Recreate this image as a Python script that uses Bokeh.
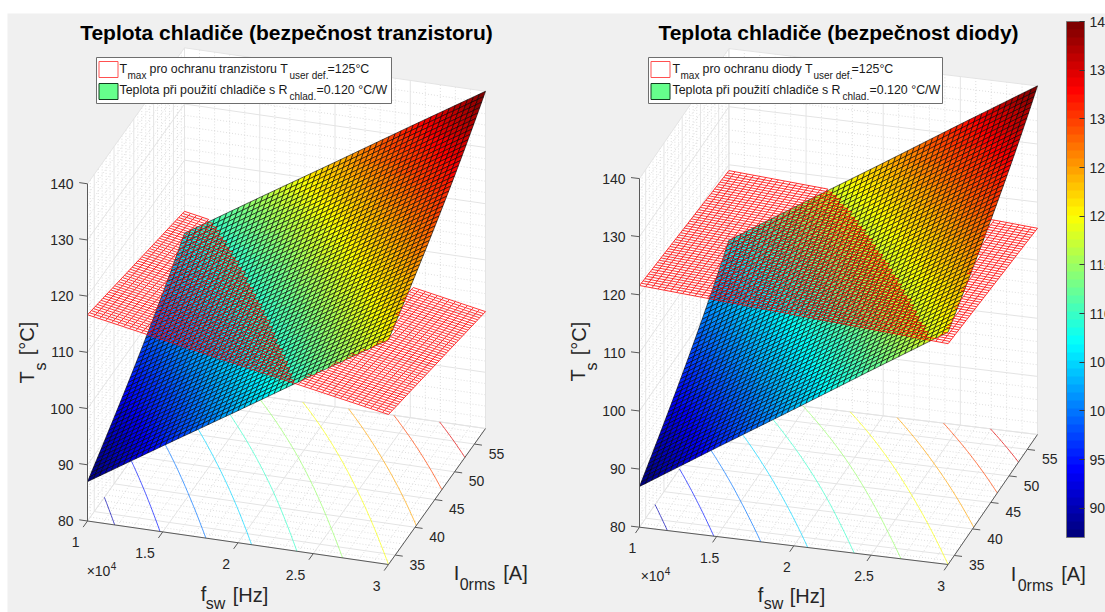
import numpy as np
import contourpy
from bokeh.plotting import figure
from bokeh.embed import file_html
from bokeh.resources import INLINE
from bokeh.models import Range1d, ColorBar, LinearColorMapper, FixedTicker
from bokeh.core.properties import value

# ---- values ----
f_table = [1.0, 1.5, 2.0, 2.5, 3.0]            # x 1e4 Hz
i_table = [33.3, 37.0, 41.0, 45.0, 49.0, 53.0, 57.8]   # A
T_f1  = [87.0, 89.6, 92.5, 95.6, 98.8, 102.4, 107.0]
T_f15 = [95.3, 97.9, 100.8, 103.9, 107.1, 110.7, 115.3]
T_f2  = [103.5, 106.1, 109.0, 112.1, 115.3, 118.9, 123.5]
T_f25 = [111.8, 114.4, 117.3, 120.4, 123.6, 127.2, 131.8]
T_f3  = [120.0, 122.6, 125.5, 128.6, 131.8, 135.4, 140.0]
# limit planes at corners (f=1,Imin),(f=3,Imin),(f=1,Imax),(f=3,Imax)
plane_tranzistor = [116.7, 106.7, 110.9, 100.8]
plane_dioda = [121.6, 118.0, 119.0, 115.5]
contour_levels = [90, 95, 100, 105, 110, 115, 120, 125, 130, 135]
f_ticks = [1, 1.5, 2, 2.5, 3]
f_labels = ["1", "1.5", "2", "2.5", "3"]
i_ticks = [35, 40, 45, 50, 55]
z_ticks = [80, 90, 100, 110, 120, 130, 140]
cbar_ticks = [90, 95, 100, 105, 110, 115, 120, 125, 130, 135, 140]
T_LOW, T_HIGH = 87.0, 140.0
F_MIN, F_MAX, I_MIN, I_MAX, Z_MIN, Z_MAX = 1.0, 3.0, 33.3, 57.8, 80.0, 140.0
MESH = 50

FONT = value("Liberation Sans")
INK = "#262626"


def jet(t):
    t = np.clip(t, 0, 1)
    r = np.clip(1.5 - abs(4 * t - 3), 0, 1)
    g = np.clip(1.5 - abs(4 * t - 2), 0, 1)
    b = np.clip(1.5 - abs(4 * t - 1), 0, 1)
    return "#%02x%02x%02x" % (int(r * 255), int(g * 255), int(b * 255))


palette = [jet(i / 63) for i in range(64)]


def color_of(T):
    k = int((T - T_LOW) / (T_HIGH - T_LOW) * 64)
    return palette[min(max(k, 0), 63)]


table = np.array([T_f1, T_f15, T_f2, T_f25, T_f3])


def surface_on(fs, Is):
    # smooth curve through the values read for each frequency
    by_i = np.array([np.polyval(np.polyfit(i_table, row, 3), Is) for row in table])
    return np.array([np.interp(fs, f_table, by_i[:, j]) for j in range(len(Is))])  # [I, f]


def plane_on(c, fs, Is):
    u = (fs - F_MIN) / (F_MAX - F_MIN)
    v = (Is - I_MIN) / (I_MAX - I_MIN)
    return c[0] * (1 - u) * (1 - v) + c[1] * u * (1 - v) + c[2] * (1 - u) * v + c[3] * u * v


p = figure(width=1105, height=612, output_backend="svg", toolbar_location=None,
           x_range=Range1d(0, 1105), y_range=Range1d(612, 0), min_border=0,
           background_fill_color="white", border_fill_color="white")
p.axis.visible = False
p.grid.visible = False
p.outline_line_color = None

p.quad(left=[7], right=[1105], top=[13], bottom=[612], fill_color="#f0f0f0", line_color=None)


def text(x, y, s, size=14, color=INK, align="left", base="middle", style="normal", angle=0):
    p.text(x=[x], y=[y], text=[s], text_font=FONT, text_font_size=f"{size}px", text_color=color,
           text_align=align, text_baseline=base, text_font_style=style, angle=angle)


def panel(cfg):
    Lx, Ly = cfg["L"]; Fx, Fy = cfg["F"]; Rx, Ry = cfg["R"]; zs = cfg["zs"]

    def proj(f, I, z):
        f = np.asarray(f, float); I = np.asarray(I, float); z = np.asarray(z, float)
        u = (f - F_MIN) / (F_MAX - F_MIN)
        v = (I - I_MIN) / (I_MAX - I_MIN)
        return Lx + u * (Fx - Lx) + v * (Rx - Fx), Ly + u * (Fy - Ly) + v * (Ry - Fy) - zs * (z - Z_MIN)

    # walls
    wf = [F_MIN, F_MIN, F_MIN, F_MAX, F_MAX, F_MAX]
    wi = [I_MIN, I_MIN, I_MAX, I_MAX, I_MAX, I_MIN]
    wz = [Z_MIN, Z_MAX, Z_MAX, Z_MAX, Z_MIN, Z_MIN]
    wx, wy = proj(wf, wi, wz)
    p.patch(wx, wy, fill_color="white", line_color=None)

    def grid_lines(fv, iv, zv, color, dash, width):
        xs, ys = [], []
        def add(a, b):
            x, y = proj([a[0], b[0]], [a[1], b[1]], [a[2], b[2]])
            xs.append(list(x)); ys.append(list(y))
        for f in fv:
            add((f, I_MIN, Z_MIN), (f, I_MAX, Z_MIN))
            add((f, I_MAX, Z_MIN), (f, I_MAX, Z_MAX))
        for i in iv:
            add((F_MIN, i, Z_MIN), (F_MAX, i, Z_MIN))
            add((F_MIN, i, Z_MIN), (F_MIN, i, Z_MAX))
        for z in zv:
            add((F_MIN, I_MIN, z), (F_MIN, I_MAX, z))
            add((F_MIN, I_MAX, z), (F_MAX, I_MAX, z))
        p.multi_line(xs, ys, line_color=color, line_width=width, line_dash=dash)

    minor_f = [1 + 0.1 * k for k in range(21) if k % 5]
    minor_i = [k for k in range(34, 58) if k % 5]
    minor_z = [k for k in range(80, 141, 2) if k % 10]
    grid_lines(minor_f, minor_i, minor_z, "#c8c8c8", "1 2", 0.6)
    grid_lines(f_ticks, i_ticks + [I_MIN, I_MAX], z_ticks, "#e4e4e4", "solid", 1)

    # mesh
    fm = np.linspace(F_MIN, F_MAX, MESH + 1)
    im = np.linspace(I_MIN, I_MAX, MESH + 1)
    Tm = surface_on(fm, im)

    # floor contours
    gen = contourpy.contour_generator(x=fm, y=im, z=Tm)
    for lev in contour_levels:
        for seg in gen.lines(lev):
            x, y = proj(seg[:, 0], seg[:, 1], np.full(len(seg), Z_MIN))
            p.line(x, y, line_color=color_of(lev), line_width=0.7)

    # surface, painted back to front
    xs, ys, cols = [], [], []
    for j in range(MESH - 1, -1, -1):
        for k in range(MESH):
            cf = [fm[k], fm[k + 1], fm[k + 1], fm[k]]
            ci = [im[j], im[j], im[j + 1], im[j + 1]]
            cz = [Tm[j, k], Tm[j, k + 1], Tm[j + 1, k + 1], Tm[j + 1, k]]
            x, y = proj(cf, ci, cz)
            xs.append(x.tolist()); ys.append(y.tolist())
            cols.append(color_of(sum(cz) / 4))
    p.patches(xs, ys, fill_color=cols, line_color="#000000", line_width=0.6)

    # limit plane: keep only what the surface does not hide
    c = cfg["plane"]
    fine_f = np.linspace(F_MIN, F_MAX, 201)
    fine_i = np.linspace(I_MIN, I_MAX, 201)
    T_fine = surface_on(fine_f, fine_i)
    du = (Rx - Fx) / (Fx - Lx)
    dz = (du * (Fy - Ly) - (Ry - Fy)) / zs
    lam = np.linspace(0, 1, 120)

    def hidden(f, I):
        u = (f - F_MIN) / 2.0
        v = (I - I_MIN) / (I_MAX - I_MIN)
        z = plane_on(c, f, I)
        uu = u + lam * du
        vv = v - lam
        ok = (uu <= 1) & (vv >= 0)
        uu, vv, ll = uu[ok], vv[ok], lam[ok]
        Ts = T_fine[np.rint(vv * 200).astype(int), np.rint(uu * 200).astype(int)]
        if z >= Ts[0]:
            return False
        return bool(np.any(z + ll * dz >= Ts))

    px, py = [], []
    def seg(f0, i0, f1, i1):
        if hidden((f0 + f1) / 2, (i0 + i1) / 2):
            return
        x, y = proj([f0, f1], [i0, i1], [plane_on(c, f0, i0), plane_on(c, f1, i1)])
        px.extend([x[0], x[1], np.nan]); py.extend([y[0], y[1], np.nan])
    for j in range(MESH + 1):
        for k in range(MESH):
            seg(fm[k], im[j], fm[k + 1], im[j])
            seg(fm[j], im[k], fm[j], im[k + 1])
    p.line(px, py, line_color="#ff0000", line_width=0.8)

    # axes
    axis_color = "#5a5a5a"
    ax = [proj([F_MIN, F_MAX], [I_MIN, I_MIN], [80, 80]),
          proj([F_MAX, F_MAX], [I_MIN, I_MAX], [80, 80]),
          proj([F_MIN, F_MIN], [I_MIN, I_MIN], [80, 140])]
    p.multi_line([list(a[0]) for a in ax], [list(a[1]) for a in ax], line_color=axis_color, line_width=1)
    for f, lab in zip(f_ticks, f_labels):
        x, y = proj([f, f], [I_MIN, I_MIN - 0.045 * (I_MAX - I_MIN)], [80, 80])
        p.line(x, y, line_color=axis_color, line_width=1)
        x0, y0 = proj(f, I_MIN, 80)
        text(float(x0) + cfg["f_off"][0], float(y0) + cfg["f_off"][1], lab, align=cfg["f_align"])
    for i in i_ticks:
        x, y = proj([F_MAX, F_MAX + 0.05], [i, i], [80, 80])
        p.line(x, y, line_color=axis_color, line_width=1)
        x0, y0 = proj(F_MAX, i, 80)
        text(float(x0) + cfg["i_off"][0], float(y0) + cfg["i_off"][1], str(i), align="center")
    for z in z_ticks:
        x, y = proj([F_MIN, F_MIN - 0.055], [I_MIN, I_MIN], [z, z])
        p.line(x, y, line_color=axis_color, line_width=1)
        x0, y0 = proj(F_MIN, I_MIN, z)
        text(float(x0) + cfg["z_off"], float(y0), str(z), align="right")

    # titles and axis labels
    text(cfg["title_x"], 32, cfg["title"], size=21, color="#000000", align="center", style="bold")
    for (x, y, s, size, ang) in cfg["labels"]:
        text(x, y, s, size=size, angle=ang, align="center")

    # legend
    (x0, x1) = cfg["legend_x"]
    p.quad(left=[x0], right=[x1], top=[57], bottom=[103], fill_color="white", line_color="#6e6e6e", line_width=1)
    sx = x0 + 2.5
    p.quad(left=[sx], right=[sx + 19], top=[61], bottom=[77], fill_color="white", line_color="#ff5050", line_width=1)
    p.quad(left=[sx], right=[sx + 19], top=[83], bottom=[99], fill_color="#66ff8c", line_color="#123d1f", line_width=1)
    for (x, y, s, size) in cfg["legend"]:
        text(x, y, s, size=size, color="#1a1a1a")


ROT = np.pi / 2
R1, S1, R2, S2 = 68, 74.5, 89.5, 96
panel(dict(
    L=(87, 520.5), F=(388, 564), R=(485, 428), zs=5.62, plane=plane_tranzistor,
    f_off=(-8, 21), f_align="right", i_off=(22, 9.5), z_off=-14,
    title="Teplota chladiče (bezpečnost tranzistoru)", title_x=286,
    labels=[(203, 593, "f", 20, 0), (215, 603, "sw", 16, 0), (250, 594, "[Hz]", 20, 0),
            (456, 572, "I", 20, 0), (477, 584, "0rms", 16, 0), (515, 572, "[A]", 20, 0),
            (26, 377, "T", 20, ROT), (40, 366, "s", 16, ROT), (26, 338, "[°C]", 20, ROT),
            (98, 570, "×10", 14, 0), (113, 565, "4", 10, 0)],
    legend_x=(96, 391),
    legend=[(119, R1, "T", 12.4), (127, S1, "max", 10), (149, R1, "pro ochranu tranzistoru T", 12.4),
            (289, S1, "user def.", 10), (327, R1, "=125°C", 12.4),
            (119, R2, "Teplota při použití chladiče s R", 12.4), (289, S2, "chlad.", 10), (316, R2, "=0.120 °C/W", 12.4)],
))
panel(dict(
    L=(639, 526.7), F=(947.6, 564), R=(1037, 434), zs=5.81, plane=plane_dioda,
    f_off=(-7, 21), f_align="center", i_off=(22.5, 10), z_off=-14,
    title="Teplota chladiče (bezpečnost diody)", title_x=838,
    labels=[(760, 594, "f", 20, 0), (773, 603, "sw", 16, 0), (807, 595, "[Hz]", 20, 0),
            (1013, 573, "I", 20, 0), (1035, 585, "0rms", 16, 0), (1073, 573, "[A]", 20, 0),
            (577, 375, "T", 20, ROT), (591, 366, "s", 16, ROT), (578, 338, "[°C]", 20, ROT),
            (652, 575, "×10", 14, 0), (667, 570, "4", 10, 0)],
    legend_x=(648, 942),
    legend=[(672, R1, "T", 12.4), (680, S1, "max", 10), (702, R1, "pro ochranu diody T", 12.4),
            (813, S1, "user def.", 10), (851, R1, "=125°C", 12.4),
            (672, R2, "Teplota při použití chladiče s R", 12.4), (842, S2, "chlad.", 10), (869, R2, "=0.120 °C/W", 12.4)],
))

mapper = LinearColorMapper(palette=palette, low=T_LOW, high=T_HIGH)
bar = ColorBar(color_mapper=mapper, ticker=FixedTicker(ticks=cbar_ticks), width=18, height=516,
               location=(1066, 75), padding=0, margin=0,
               major_label_text_font="Liberation Sans", major_label_text_font_size="14px",
               major_label_text_color=INK, major_tick_line_color="#333333", major_tick_in=5,
               label_standoff=5, minor_tick_line_color=None, bar_line_color="#777777",
               border_line_color=None, background_fill_color=None)
p.add_layout(bar, "center")

open("out.html", "w").write(file_html(p, INLINE))
